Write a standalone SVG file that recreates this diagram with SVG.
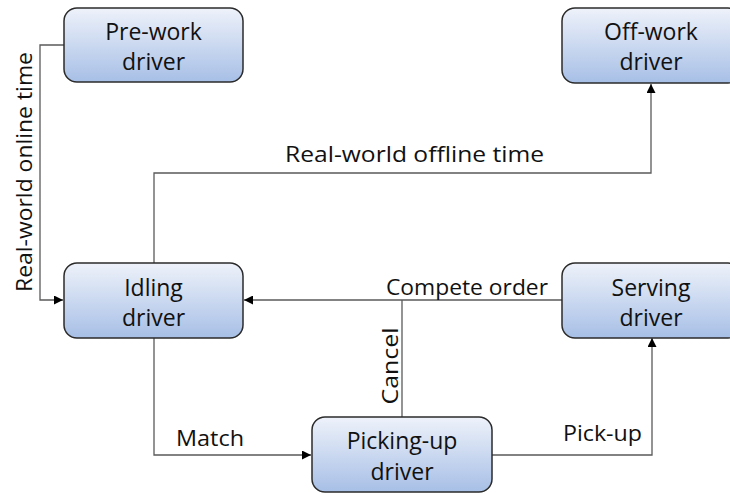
<svg xmlns="http://www.w3.org/2000/svg" width="730" height="493" viewBox="0 0 730 493">
<defs>
<linearGradient id="g" x1="0" y1="0" x2="0" y2="1">
<stop offset="0" stop-color="#eef2fa"/>
<stop offset="1" stop-color="#a7bfe6"/>
</linearGradient>
<marker id="a" viewBox="0 0 10 10" refX="10" refY="5" markerWidth="9" markerHeight="9" markerUnits="userSpaceOnUse" orient="auto">
<path d="M0,0 L10,5 L0,10 Z" fill="#000"/>
</marker>
</defs>
<style>
.n{fill:url(#g);stroke:#2b2b2b;stroke-width:1.5}
.t{font-family:"Open Sans","Noto Sans",sans-serif;font-size:23px;fill:#111;text-anchor:middle}
.l{font-family:"Open Sans","Noto Sans",sans-serif;font-size:22px;fill:#111}
.c{fill:none;stroke:#5a5a5a;stroke-width:1.3}
.h{marker-end:url(#a)}
</style>
<rect width="730" height="493" fill="#fff"/>
<g id="connectors">
<polyline class="c h" points="64,45 40,45 40,300 63,300"/>
<polyline class="c h" points="154,263 154,173 651,173 651,84"/>
<polyline class="c h" points="562,300 244,300"/>
<polyline class="c" points="402,417 402,300"/>
<polyline class="c h" points="154,338 154,455 311,455"/>
<polyline class="c h" points="492,455 652,455 652,338"/>
<text class="l" transform="translate(32,172) rotate(-90)" text-anchor="middle" textLength="240" lengthAdjust="spacingAndGlyphs">Real-world online time</text>
<text class="l" x="285" y="162" textLength="259" lengthAdjust="spacingAndGlyphs">Real-world offline time</text>
<text class="l" x="386" y="295" textLength="162" lengthAdjust="spacingAndGlyphs">Compete order</text>
<text class="l" transform="translate(398,366) rotate(-90)" text-anchor="middle" textLength="77" lengthAdjust="spacingAndGlyphs">Cancel</text>
<text class="l" x="176" y="446" textLength="68" lengthAdjust="spacingAndGlyphs">Match</text>
<text class="l" x="563" y="441" textLength="79" lengthAdjust="spacingAndGlyphs">Pick-up</text>
</g>
<g id="prework">
<rect class="n" x="64" y="8" width="179" height="74" rx="13"/>
<text class="t" x="153.5" y="40">Pre-work</text>
<text class="t" x="153.5" y="70">driver</text>
</g>
<g id="offwork">
<rect class="n" x="562" y="8" width="179" height="75" rx="13"/>
<text class="t" x="651" y="40">Off-work</text>
<text class="t" x="651" y="70">driver</text>
</g>
<g id="idling">
<rect class="n" x="64" y="263" width="179" height="75" rx="13"/>
<text class="t" x="153.5" y="296">Idling</text>
<text class="t" x="153.5" y="326">driver</text>
</g>
<g id="serving">
<rect class="n" x="562" y="263" width="179" height="75" rx="13"/>
<text class="t" x="651" y="296">Serving</text>
<text class="t" x="651" y="326">driver</text>
</g>
<g id="pickingup">
<rect class="n" x="312" y="417" width="180" height="75" rx="13"/>
<text class="t" x="402" y="449">Picking-up</text>
<text class="t" x="402" y="480">driver</text>
</g>
</svg>
